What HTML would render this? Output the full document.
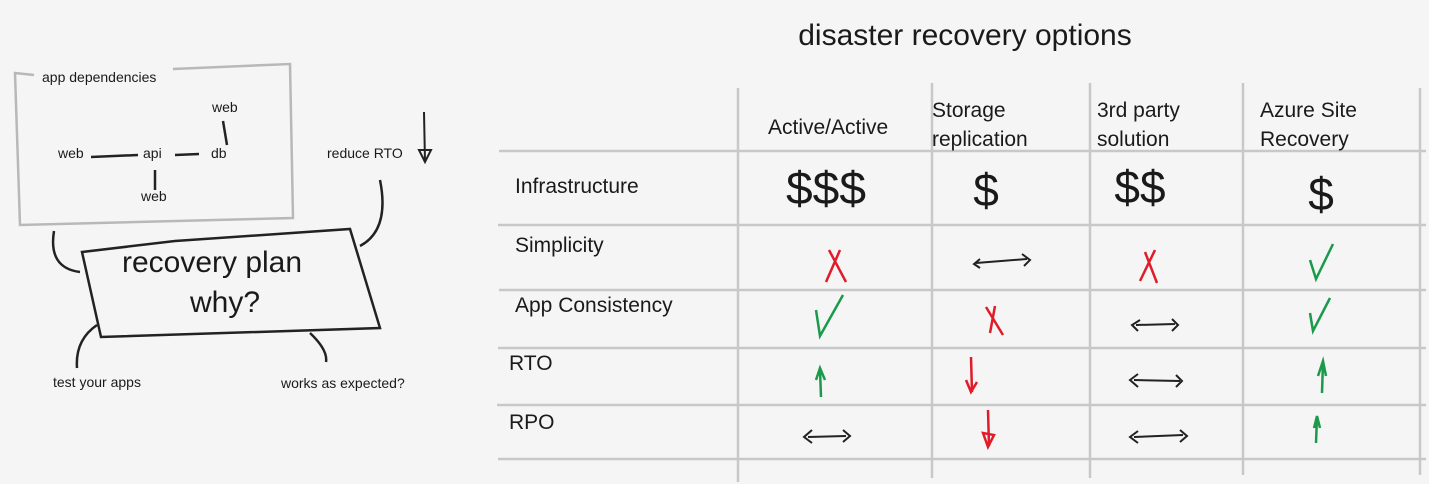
<!DOCTYPE html>
<html><head><meta charset="utf-8"><style>
html,body{margin:0;padding:0;background:#f5f5f5;}
svg{display:block;}
text{font-family:"Liberation Sans",sans-serif;fill:#1a1a1a;}
</style></head><body>
<svg width="1429" height="484" viewBox="0 0 1429 484" xmlns="http://www.w3.org/2000/svg">
<rect width="1429" height="484" fill="#f5f5f5"/>
<text x="965" y="45" font-size="30" text-anchor="middle">disaster recovery options</text>
<path d="M34 75 L15 73 L20 225 L293 218 L290 64 L173 69" fill="none" stroke="#b8b8b8" stroke-width="2.5"/>
<text x="42" y="82" font-size="14">app dependencies</text>
<text x="58" y="158" font-size="14">web</text>
<text x="143" y="158" font-size="14">api</text>
<text x="211" y="158" font-size="14">db</text>
<text x="212" y="112" font-size="14">web</text>
<text x="141" y="201" font-size="14">web</text>
<path d="M91 157 L138 155 M175 155 L199 154 M223 121 L227 145 M155 170 L155 190" stroke="#222" stroke-width="2.5" fill="none"/>
<text x="327" y="158" font-size="14">reduce RTO</text>
<path d="M424 112 L425 162 M419 150 L425 162 L431 150 Z" stroke="#222" stroke-width="2" fill="none"/>
<path d="M82 252 L175 241 L350 229 L380 328 L101 337 Z" fill="#f5f5f5" stroke="#222" stroke-width="2.5"/>
<text x="212" y="272" font-size="30" text-anchor="middle">recovery plan</text>
<text x="225" y="312" font-size="30" text-anchor="middle">why?</text>
<path d="M54 231 Q48 268 80 272 M380 180 Q390 230 360 246 M97 325 Q75 340 77 368 M310 333 Q328 350 326 362" stroke="#222" stroke-width="2.5" fill="none"/>
<text x="53" y="387" font-size="14">test your apps</text>
<text x="281" y="388" font-size="14">works as expected?</text>
<g stroke="#c8c8c8" stroke-width="2.5">
<line x1="738" y1="88" x2="738" y2="482"/>
<line x1="932" y1="83" x2="932" y2="478"/>
<line x1="1090" y1="83" x2="1090" y2="478"/>
<line x1="1243" y1="83" x2="1243" y2="475"/>
<line x1="1420" y1="88" x2="1420" y2="475"/>
<line x1="499" y1="151" x2="1426" y2="151"/>
<line x1="498" y1="225" x2="1426" y2="225"/>
<line x1="499" y1="290" x2="1426" y2="290"/>
<line x1="498" y1="348" x2="1426" y2="348"/>
<line x1="497" y1="405" x2="1426" y2="405"/>
<line x1="498" y1="459" x2="1426" y2="459"/>
</g>
<g font-size="21">
<text x="768" y="134">Active/Active</text>
<text x="932" y="117">Storage</text>
<text x="932" y="146">replication</text>
<text x="1097" y="117">3rd party</text>
<text x="1097" y="146">solution</text>
<text x="1260" y="117">Azure Site</text>
<text x="1260" y="146">Recovery</text>
<text x="515" y="193">Infrastructure</text>
<text x="515" y="252">Simplicity</text>
<text x="515" y="312">App Consistency</text>
<text x="509" y="370">RTO</text>
<text x="509" y="429">RPO</text>
</g>
<g font-size="46" text-anchor="middle">
<text x="826" y="204" textLength="80" lengthAdjust="spacingAndGlyphs">$$$</text>
<text x="986" y="206">$</text>
<text x="1140" y="203">$$</text>
<text x="1321" y="210">$</text>
</g>
<g stroke="#e01b2a" stroke-width="2.5" fill="none">
<path d="M829 250 L846 282 M840 250 L826 282"/>
<path d="M1145 252 L1157 283 M1155 250 L1140 281"/>
<path d="M986 307 L1003 335 M995 306 L990 333"/>
<path d="M971 357 L972 392 M966 380 L971 392 L977 382"/>
<path d="M988 410 L989 446 M983 433 L988 447 L994 435 Z"/>
</g>
<g stroke="#1a9a4a" stroke-width="2.5" fill="none">
<path d="M1310 260 L1316 279 L1333 244"/>
<path d="M816 310 L820 336 L843 295"/>
<path d="M1310 313 L1313 331 L1330 298"/>
<path d="M821 397 L820 370 M816 380 L820 368 L825 380"/>
<path d="M1322 393 L1323 362 M1318 376 L1323 361 L1326 376"/>
<path d="M1316 443 L1317 417 M1314 428 L1317 416 L1320 428"/>
</g>
<g stroke="#222" stroke-width="2" fill="none">
<path d="M976 263 L1027 259 M1022 254 L1030 260 L1024 266 M980 259 L974 264 L980 268"/>
<path d="M1136 325 L1175 324 M1140 320 L1132 325 L1138 331 M1172 319 L1178 325 L1172 331"/>
<path d="M1134 380 L1180 381 M1138 374 L1130 380 L1138 387 M1176 375 L1182 381 L1176 387"/>
<path d="M808 437 L846 436 M812 430 L804 437 L812 443 M843 430 L850 436 L843 442"/>
<path d="M1134 437 L1183 435 M1138 431 L1130 437 L1138 443 M1180 430 L1187 436 L1180 442"/>
</g>
</svg>
</body></html>
